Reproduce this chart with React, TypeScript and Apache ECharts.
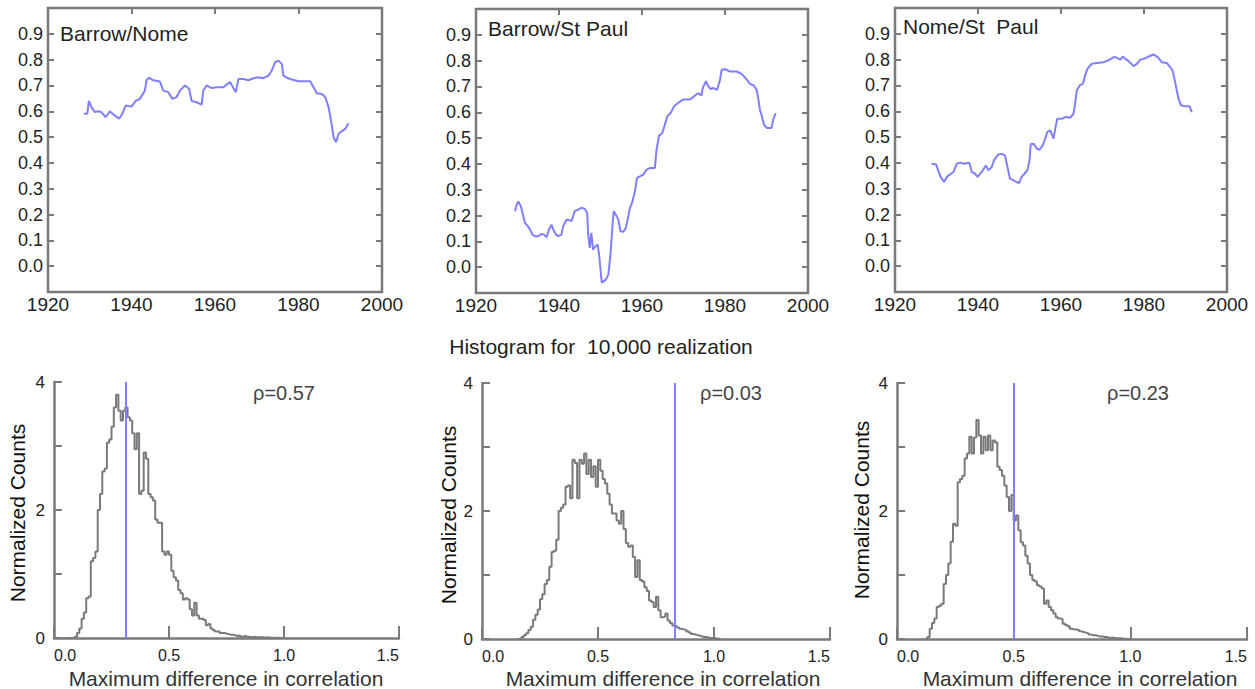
import React, { useEffect, useRef } from "react";
import * as echarts from "echarts";

const FONT = '"Liberation Sans", Arial, sans-serif';
const BLUE = "#7f7fff";
const GRAY = "#7a7a7a";
const TXT = "#222";

// ---- Top row: running correlations ----
const panelTitles = ["Barrow/Nome", "Barrow/St Paul", "Nome/St  Paul"];

const bnYears = [1928.6,1929.4,1929.8,1930.4,1931.2,1932,1932.8,1933.8,1934.8,1936,1937,1937.8,1938.6,1940,1941,1942,1943.2,1943.6,1944.2,1945.2,1946.8,1947.6,1948.8,1949.8,1950.8,1951.6,1952.8,1953.8,1954.4,1955.6,1956.8,1957.2,1958,1959.2,1960.4,1962,1963.6,1964.4,1965,1965.6,1966.8,1968,1969.2,1970.4,1971.6,1972.8,1973.6,1974.4,1975.2,1976,1976.4,1977.2,1978.4,1980,1981.6,1982.8,1983.6,1984.4,1985.6,1986.4,1987.2,1987.8,1988.4,1989,1989.6,1990.4,1991.2,1992];
const bnValues = [0.59,0.59,0.64,0.616,0.597,0.6,0.597,0.577,0.6,0.584,0.571,0.59,0.622,0.618,0.64,0.648,0.68,0.72,0.73,0.72,0.715,0.68,0.674,0.648,0.655,0.68,0.7,0.687,0.64,0.635,0.626,0.68,0.7,0.69,0.693,0.693,0.713,0.69,0.674,0.725,0.725,0.72,0.728,0.732,0.728,0.738,0.758,0.79,0.796,0.783,0.738,0.73,0.723,0.716,0.716,0.716,0.693,0.67,0.667,0.655,0.616,0.564,0.5,0.48,0.513,0.523,0.532,0.554];

const bsYears = [1929.4,1929.8,1930.2,1930.8,1931.2,1931.8,1932.4,1933,1933.6,1934.2,1935,1935.8,1936.4,1937,1937.6,1938.2,1938.6,1939.3,1939.8,1940.6,1941,1941.8,1942.5,1943,1943.8,1944.6,1945.4,1946.2,1946.8,1947,1947.4,1947.8,1948.2,1948.8,1949.3,1949.7,1950,1950.3,1951.3,1951.9,1952.4,1953,1953.2,1953.9,1954.3,1954.8,1955.5,1956.1,1956.7,1957.1,1957.6,1958.3,1958.8,1959.5,1960.3,1961.1,1961.9,1963.1,1963.5,1964.1,1964.9,1965.5,1966.1,1966.9,1967.7,1968.7,1969.9,1971.5,1973.5,1974.3,1974.7,1975.4,1975.9,1976.5,1977.1,1978.1,1978.8,1979.2,1980,1981.2,1982.8,1984,1985.2,1986,1987,1987.6,1988,1988.4,1988.8,1989.4,1990.1,1991.2,1991.6,1992.2];
const bsValues = [0.217,0.242,0.255,0.236,0.21,0.171,0.161,0.146,0.126,0.12,0.12,0.129,0.126,0.116,0.146,0.165,0.146,0.126,0.12,0.126,0.159,0.184,0.182,0.178,0.217,0.223,0.23,0.226,0.21,0.133,0.075,0.133,0.068,0.081,0.088,0.043,-0.009,-0.06,-0.048,-0.028,0.049,0.184,0.217,0.197,0.184,0.139,0.137,0.152,0.197,0.23,0.249,0.294,0.346,0.352,0.358,0.378,0.384,0.384,0.455,0.509,0.52,0.552,0.584,0.597,0.623,0.636,0.649,0.649,0.674,0.665,0.697,0.72,0.703,0.69,0.694,0.687,0.726,0.765,0.767,0.758,0.758,0.749,0.728,0.71,0.703,0.687,0.655,0.61,0.59,0.552,0.539,0.539,0.571,0.597];

const nsYears = [1928.8,1929.9,1930.4,1931,1931.8,1932.5,1933.3,1934.1,1934.9,1935.7,1936.6,1937.9,1938.5,1939.3,1939.9,1940.9,1941.9,1942.5,1943.3,1943.9,1944.9,1945.7,1946.5,1947.1,1947.7,1948.5,1949.3,1949.9,1950.5,1951.2,1951.9,1952.4,1952.7,1953.4,1954.2,1954.8,1955.6,1956.2,1956.7,1957.4,1958.2,1958.6,1959.1,1960.2,1961.2,1962.2,1963,1963.4,1963.8,1964.5,1965.3,1965.8,1966.4,1967.4,1968.6,1970.2,1971.4,1972.7,1973.5,1974.3,1974.9,1975.5,1976.3,1977.5,1978.3,1979.1,1979.9,1981.1,1982.3,1983.3,1984.3,1985.5,1986.3,1986.9,1987.5,1987.9,1988.3,1988.9,1989.9,1991,1991.5];
const nsValues = [0.397,0.394,0.371,0.346,0.326,0.346,0.356,0.365,0.397,0.401,0.397,0.401,0.365,0.358,0.346,0.365,0.39,0.371,0.384,0.412,0.433,0.435,0.429,0.384,0.339,0.333,0.326,0.322,0.346,0.358,0.371,0.41,0.472,0.474,0.455,0.451,0.468,0.494,0.52,0.526,0.494,0.532,0.571,0.571,0.578,0.575,0.59,0.629,0.681,0.7,0.707,0.739,0.765,0.784,0.787,0.79,0.797,0.81,0.807,0.8,0.812,0.803,0.794,0.775,0.784,0.8,0.803,0.812,0.82,0.81,0.79,0.787,0.771,0.758,0.713,0.681,0.649,0.623,0.619,0.619,0.597];

// ---- Bottom row: histograms (bin width 0.01) ----
const binWidth = 0.01;
const histStarts = [0.05, 0.15, 0.12];
const histBN = [0,0,0,0,0.02,0.08,0.15,0.3,0.4,0.62,0.65,1.2,1.25,1.35,2.0,2.25,2.6,2.65,3.05,3.1,3.3,3.6,3.8,3.55,3.4,3.55,3.6,3.45,3.4,3.2,2.95,3.2,2.25,2.3,2.9,2.8,2.25,2.2,2.15,1.85,1.8,1.8,1.35,1.3,1.35,1.3,1.05,0.95,0.9,0.75,0.7,0.6,0.62,0.6,0.45,0.35,0.55,0.35,0.3,0.3,0.28,0.2,0.22,0.15,0.12,0.1,0.1,0.08,0.08,0.07,0.06,0.05,0.05,0.04,0.03,0.04,0.02,0.03,0.02,0.02,0.01,0.02,0.01,0.01,0.01,0.01,0.005,0.01,0.005,0.005,0.005,0,0.005,0,0,0];
const histBS = [0,0.01,0.03,0.06,0.09,0.14,0.19,0.3,0.38,0.46,0.62,0.7,0.86,0.92,1.13,1.36,1.38,1.55,2.0,2.05,2.1,2.38,2.4,2.2,2.8,2.75,2.2,2.8,2.74,2.9,2.58,2.8,2.53,2.7,2.38,2.8,2.63,2.5,2.43,2.27,2.1,1.96,1.96,1.85,1.8,2.0,1.72,1.5,1.44,1.46,1.28,0.97,1.23,0.92,0.9,0.81,0.75,0.6,0.58,0.5,0.66,0.45,0.34,0.35,0.4,0.29,0.25,0.21,0.2,0.18,0.16,0.15,0.14,0.12,0.1,0.08,0.07,0.06,0.05,0.04,0.03,0.03,0.02,0.015,0.01,0.01,0.005,0];
const histNS = [0,0.03,0.16,0.25,0.32,0.5,0.52,0.55,0.86,1.0,1.18,1.52,1.8,1.77,2.45,2.5,2.55,2.82,2.9,3.16,2.9,3.15,3.42,3.18,2.9,3.16,2.95,3.18,2.95,3.1,3.07,2.69,2.64,2.55,2.4,2.22,2.0,2.25,1.85,1.93,1.7,1.51,1.46,1.3,1.18,1.0,0.92,0.9,0.84,0.82,0.79,0.55,0.6,0.5,0.45,0.4,0.34,0.32,0.31,0.24,0.22,0.2,0.16,0.15,0.15,0.14,0.12,0.11,0.1,0.09,0.07,0.06,0.06,0.05,0.04,0.04,0.03,0.03,0.02,0.02,0.02,0.01,0.01,0.01,0.005,0.005,0,0];
const observedDiff = [0.31, 0.83, 0.5];
const rhoLabels = ["ρ=0.57", "ρ=0.03", "ρ=0.23"];
const histTitle = "Histogram for  10,000 realization";
const xTitle = "Maximum difference in correlation";
const yTitle = "Normalized Counts";

const topGrids = [
  { left: 48, top: 8, width: 334, height: 284 },
  { left: 476, top: 9, width: 332, height: 284 },
  { left: 895, top: 8, width: 332, height: 284 },
];
const botGrids = [
  { left: 54, top: 382, width: 345, height: 256 },
  { left: 482, top: 383, width: 348, height: 256 },
  { left: 897, top: 383, width: 350, height: 256 },
];

function zip(xs: number[], ys: number[]) {
  const n = Math.min(xs.length, ys.length);
  const out: number[][] = [];
  for (let i = 0; i < n; i++) out.push([xs[i], ys[i]]);
  return out;
}
function histPoints(start: number, vals: number[]) {
  const out: number[][] = vals.map((v, i) => [+(start + i * binWidth).toFixed(3), v]);
  out.push([+(start + vals.length * binWidth).toFixed(3), 0]);
  return out;
}

export default function App() {
  const ref = useRef<HTMLDivElement>(null);
  useEffect(() => {
    const chart = echarts.init(ref.current!, null, { renderer: "svg" });
    const lines = [zip(bnYears, bnValues), zip(bsYears, bsValues), zip(nsYears, nsValues)];
    const hists = [histBN, histBS, histNS];

    const grid: any[] = [];
    const xAxis: any[] = [];
    const yAxis: any[] = [];
    const series: any[] = [];
    const graphic: any[] = [];

    topGrids.forEach((g) => {
      grid.push({ ...g, show: true, borderColor: GRAY, borderWidth: 2.5, backgroundColor: "transparent", containLabel: false });
    });
    botGrids.forEach((g) => grid.push({ ...g, containLabel: false }));

    // top x (bottom labels) 0..2
    for (let i = 0; i < 3; i++) {
      xAxis.push({
        type: "value", gridIndex: i, position: "bottom", min: 1920, max: 2000, interval: 20,
        axisLine: { show: false, onZero: false }, axisTick: { show: false }, splitLine: { show: false },
        axisLabel: { color: TXT, fontFamily: FONT, fontSize: 19, margin: 3, formatter: (v: number) => String(v) },
      });
    }
    // top x (top ticks) 3..5
    for (let i = 0; i < 3; i++) {
      xAxis.push({
        type: "value", gridIndex: i, position: "top", min: 1920, max: 2000, interval: 20,
        axisLine: { show: false, onZero: false }, splitLine: { show: false }, axisLabel: { show: false },
        axisTick: { show: true, inside: true, length: 6, lineStyle: { color: GRAY, width: 2 } },
      });
    }
    // hist x 6..8
    for (let i = 0; i < 3; i++) {
      xAxis.push({
        type: "value", gridIndex: 3 + i, position: "bottom", min: 0, max: 1.5, interval: 0.5,
        axisLine: { show: true, onZero: false, lineStyle: { color: GRAY, width: 2.5 } },
        axisTick: { show: true, inside: true, length: 12, lineStyle: { color: GRAY, width: 2 } },
        splitLine: { show: false },
        axisLabel: { color: TXT, fontFamily: FONT, fontSize: 16, margin: 9, alignMinLabel: "left", alignMaxLabel: "right", formatter: (v: number) => v.toFixed(1) },
      });
    }
    // top y left 0..2
    for (let i = 0; i < 3; i++) {
      yAxis.push({
        type: "value", gridIndex: i, position: "left", min: -0.1, max: 1.0, interval: 0.1,
        axisLine: { show: false, onZero: false }, splitLine: { show: false },
        axisTick: { show: true, inside: true, length: 6, lineStyle: { color: GRAY, width: 2 } },
        axisLabel: { color: TXT, fontFamily: FONT, fontSize: 18, margin: 5, formatter: (v: number) => (v < -0.05 || v > 0.95 ? "" : v.toFixed(1)) },
      });
    }
    // top y right 3..5
    for (let i = 0; i < 3; i++) {
      yAxis.push({
        type: "value", gridIndex: i, position: "right", min: -0.1, max: 1.0, interval: 0.1,
        axisLine: { show: false, onZero: false }, splitLine: { show: false }, axisLabel: { show: false },
        axisTick: { show: true, inside: true, length: 6, lineStyle: { color: GRAY, width: 2 } },
      });
    }
    // hist y 6..8
    for (let i = 0; i < 3; i++) {
      yAxis.push({
        type: "value", gridIndex: 3 + i, position: "left", min: 0, max: 4, interval: 1,
        axisLine: { show: true, onZero: false, lineStyle: { color: GRAY, width: 2.5 } },
        axisTick: { show: true, inside: true, length: 8, lineStyle: { color: GRAY, width: 2 } },
        splitLine: { show: false },
        axisLabel: { color: TXT, fontFamily: FONT, fontSize: 17, margin: 9, formatter: (v: number) => (Math.round(v) % 2 === 0 ? String(Math.round(v)) : "") },
      });
    }

    lines.forEach((d, i) => {
      series.push({
        type: "line", xAxisIndex: i, yAxisIndex: i, data: d, showSymbol: false, silent: true,
        lineStyle: { color: BLUE, width: 2 }, itemStyle: { color: BLUE },
      });
    });
    hists.forEach((h, i) => {
      series.push({
        type: "line", xAxisIndex: 6 + i, yAxisIndex: 6 + i, step: "end",
        data: histPoints(histStarts[i], h), showSymbol: false, silent: true,
        lineStyle: { color: GRAY, width: 2 }, itemStyle: { color: GRAY },
        markLine: {
          silent: true, symbol: ["none", "none"], label: { show: false },
          lineStyle: { color: BLUE, width: 2, type: "solid" },
          data: [{ xAxis: observedDiff[i] }],
        },
      });
    });

    const titlePos = [[60, 33], [488, 28], [903, 26]];
    panelTitles.forEach((t, i) => {
      graphic.push({
        type: "text", x: titlePos[i][0], y: titlePos[i][1],
        style: { text: t, font: `21px ${FONT}`, fill: TXT, textAlign: "left", textVerticalAlign: "middle" },
      });
    });
    graphic.push({
      type: "text", x: 601, y: 346,
      style: { text: histTitle, font: `21px ${FONT}`, fill: TXT, textAlign: "center", textVerticalAlign: "middle" },
    });
    const rhoPos = [[253, 393], [700, 393], [1107, 393]];
    rhoLabels.forEach((t, i) => {
      graphic.push({
        type: "text", x: rhoPos[i][0], y: rhoPos[i][1],
        style: { text: t, font: `20px ${FONT}`, fill: "#444", textAlign: "left", textVerticalAlign: "middle" },
      });
    });
    const xtPos = [[226, 678], [663, 678], [1080, 678]];
    xtPos.forEach((p) => {
      graphic.push({
        type: "text", x: p[0], y: p[1],
        style: { text: xTitle, font: `21px ${FONT}`, fill: "#333", textAlign: "center", textVerticalAlign: "middle" },
      });
    });
    const ytPos = [[17, 513], [448, 515], [861, 510]];
    ytPos.forEach((p) => {
      graphic.push({
        type: "text", x: p[0], y: p[1], rotation: Math.PI / 2,
        style: { text: yTitle, font: `21px ${FONT}`, fill: "#111", textAlign: "center", textVerticalAlign: "middle" },
      });
    });

    chart.setOption({
      animation: false,
      backgroundColor: "#fff",
      grid, xAxis, yAxis, series, graphic,
    });
    return () => chart.dispose();
  }, []);
  return (
    <div
      ref={ref}
      style={{ position: "fixed", left: 0, top: 0, width: 1255, height: 689, background: "#fff" }}
    />
  );
}
